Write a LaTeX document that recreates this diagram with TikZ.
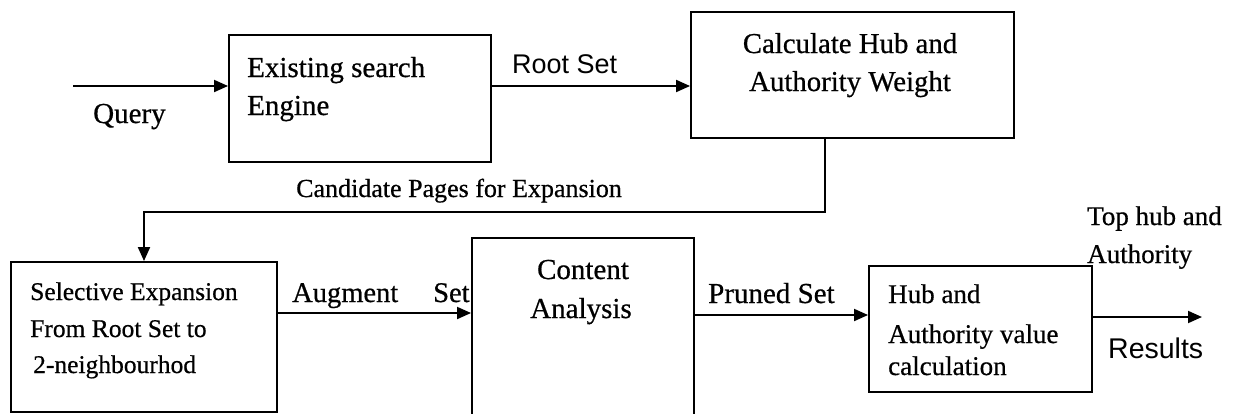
\documentclass[tikz,border=0pt]{standalone}
\usepackage{fontspec}
\setmainfont{Liberation Serif}[UprightFeatures={FakeBold=0.6}]
\newfontfamily\sansfam{Liberation Sans}
\usetikzlibrary{arrows.meta}
\newcommand\txtsize[1]{\fontsize{#1}{#1}\selectfont}
\tikzset{
  box/.style={draw, line width=1.9pt, inner sep=0pt, rectangle},
  lbl/.style={anchor=base west, inner sep=0pt},
  clbl/.style={anchor=base, inner sep=0pt},
  arr/.style={line width=1.9pt, -{Triangle[length=14pt,width=12pt]}}
}
\begin{document}
\begin{tikzpicture}[x=1pt, y=-1pt]
\clip (0,0) rectangle (1239,413);
\fill[white] (0,0) rectangle (1239,413);

% process boxes
\node[box, minimum width=262pt, minimum height=127pt] (eng) at (360,98.5) {};
\node[box, minimum width=323pt, minimum height=126pt] (calc) at (852.5,75) {};
\node[box, minimum width=266pt, minimum height=150pt] (sel) at (144,337) {};
\node[box, minimum width=222pt, minimum height=200pt] (cont) at (583,338) {};
\node[box, minimum width=223pt, minimum height=126pt] (hub) at (980.5,329) {};

% box texts
\node[lbl, font=\txtsize{29}] (t1a) at (247,77) {Existing search};
\node[lbl, font=\txtsize{29}] (t1b) at (247,115) {Engine};
\node[clbl, font=\txtsize{28.8}] (t2a) at (850,53) {Calculate Hub and};
\node[clbl, font=\txtsize{28.8}] (t2b) at (850,91) {Authority Weight};
\node[lbl, font=\txtsize{25.5}] (t3a) at (30,300) {Selective Expansion};
\node[lbl, font=\txtsize{25.5}] (t3b) at (30,337) {From Root Set to};
\node[lbl, font=\txtsize{25.5}] (t3c) at (33,373) {2-neighbourhod};
\node[clbl, font=\txtsize{29}] (t4a) at (583,279) {Content};
\node[clbl, font=\txtsize{29}] (t4b) at (581,318) {Analysis};
\node[lbl, font=\txtsize{27}] (t5a) at (888,303) {Hub and};
\node[lbl, font=\txtsize{27}] (t5b) at (888,343) {Authority value};
\node[lbl, font=\txtsize{27}] (t5c) at (888,375) {calculation};

% connector anchors
\coordinate (q0) at (73,86);
\coordinate (fb) at (825,212);
\coordinate (ag) at (0,313);
\coordinate (pr) at (0,315);
\coordinate (rsend) at (1202,317);

% connectors
\draw[arr] (q0) -- (q0 -| eng.west);
\draw[arr] (eng.east |- q0) -- (calc.west |- q0);
\draw[arr] (calc.south -| fb) -- (fb) -| (sel.north);
\draw[arr] (sel.east |- ag) -- (cont.west |- ag);
\draw[arr] (cont.east |- pr) -- (hub.west |- pr);
\draw[arr] (hub.east |- rsend) -- (rsend);

% connector labels
\node[lbl, font=\txtsize{29}] (lq) at (93,123) {Query};
\node[lbl, font=\sansfam\txtsize{27}] (lrs) at (512,73) {Root Set};
\node[lbl, font=\txtsize{26}] (lcp) at (296,197) {Candidate Pages for Expansion};
\node[lbl, font=\txtsize{28.5}] (lag) at (292,302) {Augment};
\node[lbl, font=\txtsize{28.5}] (lset) at (433,302) {Set};
\node[lbl, font=\txtsize{29}] (lps) at (708,303) {Pruned Set};
\node[lbl, font=\txtsize{27}] (lth) at (1087,225) {Top hub and};
\node[lbl, font=\txtsize{27}] (lta) at (1087,263) {Authority};
\node[lbl, font=\sansfam\txtsize{28.5}] (lres) at (1108,358) {Results};
\end{tikzpicture}
\end{document}
